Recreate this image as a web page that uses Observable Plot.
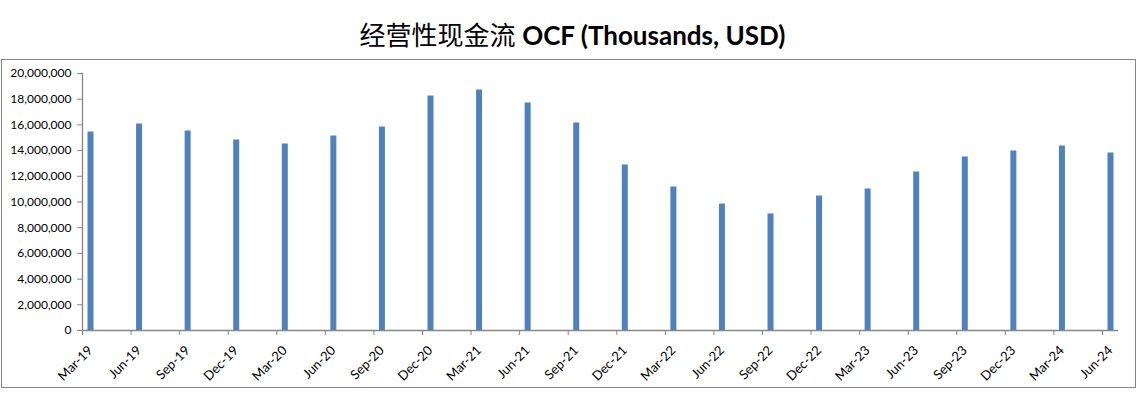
<!DOCTYPE html>
<html>
<head>
<meta charset="utf-8">
<script src="https://cdn.jsdelivr.net/npm/d3@7"></script>
<script src="https://cdn.jsdelivr.net/npm/@observablehq/plot@0.6"></script>
<style>
  html, body { margin: 0; padding: 0; background: #fff; }
  #page { position: relative; width: 1145px; height: 397px; overflow: hidden; }
  #title { position: absolute; left: 0; top: 16px; width: 1145px; text-align: center;
           font-size: 26px; line-height: 36px; color: #000; white-space: nowrap; }
  #title .zh { font-family: "Noto Sans CJK SC", sans-serif; font-weight: 400; }
  #title .en { font-family: Lato, "Open Sans", sans-serif; font-weight: 700; }
  #box { position: absolute; left: 1px; top: 59px; width: 1133px; height: 327px;
         border: 1px solid #868686; }
  #chart { position: absolute; left: 0; top: 59px; }
</style>
</head>
<body>
<div id="page">
  <div id="title"><span class="zh">经营性现金流</span> <span class="en">OCF (Thousands, USD)</span></div>
  <div id="box"></div>
  <div id="chart"></div>
</div>
<script>
const quarters = ["Mar-19","Jun-19","Sep-19","Dec-19","Mar-20","Jun-20","Sep-20","Dec-20",
  "Mar-21","Jun-21","Sep-21","Dec-21","Mar-22","Jun-22","Sep-22","Dec-22",
  "Mar-23","Jun-23","Sep-23","Dec-23","Mar-24","Jun-24"];
const ocf = [15450000, 16070000, 15530000, 14820000, 14510000, 15140000, 15840000, 18250000,
  18720000, 17700000, 16150000, 12880000, 11170000, 9840000, 9070000, 10470000,
  11010000, 12330000, 13500000, 13970000, 14360000, 13810000];
const yTicks = [0, 2000000, 4000000, 6000000, 8000000, 10000000, 12000000, 14000000, 16000000, 18000000, 20000000];

const data = quarters.map((q, i) => ({q, v: ocf[i]}));
const axisColor = "#868686";
const font = "Lato, 'Open Sans', sans-serif";

const chart = Plot.plot({
  width: 1145,
  height: 338,
  marginLeft: 82,
  marginRight: 28,
  marginTop: 14,
  marginBottom: 67,
  style: {fontFamily: font, fontSize: "12px", color: "#000", background: "transparent"},
  x: {type: "point", domain: quarters, range: [82, 1102], padding: 0, round: false, label: null},
  y: {domain: [0, 20000000], label: null},
  marks: [
    Plot.ruleX(data, {x: "q", y1: 0, y2: "v", stroke: "#4F81BD", strokeWidth: 6, dx: 8}),
    Plot.frame({anchor: "left", stroke: axisColor, strokeWidth: 1.3}),
    Plot.frame({anchor: "bottom", stroke: axisColor, strokeWidth: 1.3}),
    Plot.axisY({ticks: yTicks, tickSize: 5, tickPadding: 6, stroke: axisColor,
      tickFormat: d3.format(","), label: null, fill: "#000"}),
    Plot.axisX({tickSize: 5, stroke: axisColor, tickFormat: () => "", label: null}),
    Plot.axisX({tickSize: 0, tickRotate: -45, textAnchor: "end", dx: 8, dy: 6,
      label: null, fill: "#000", fontSize: 13})
  ]
});
document.getElementById("chart").appendChild(chart);
</script>
</body>
</html>
